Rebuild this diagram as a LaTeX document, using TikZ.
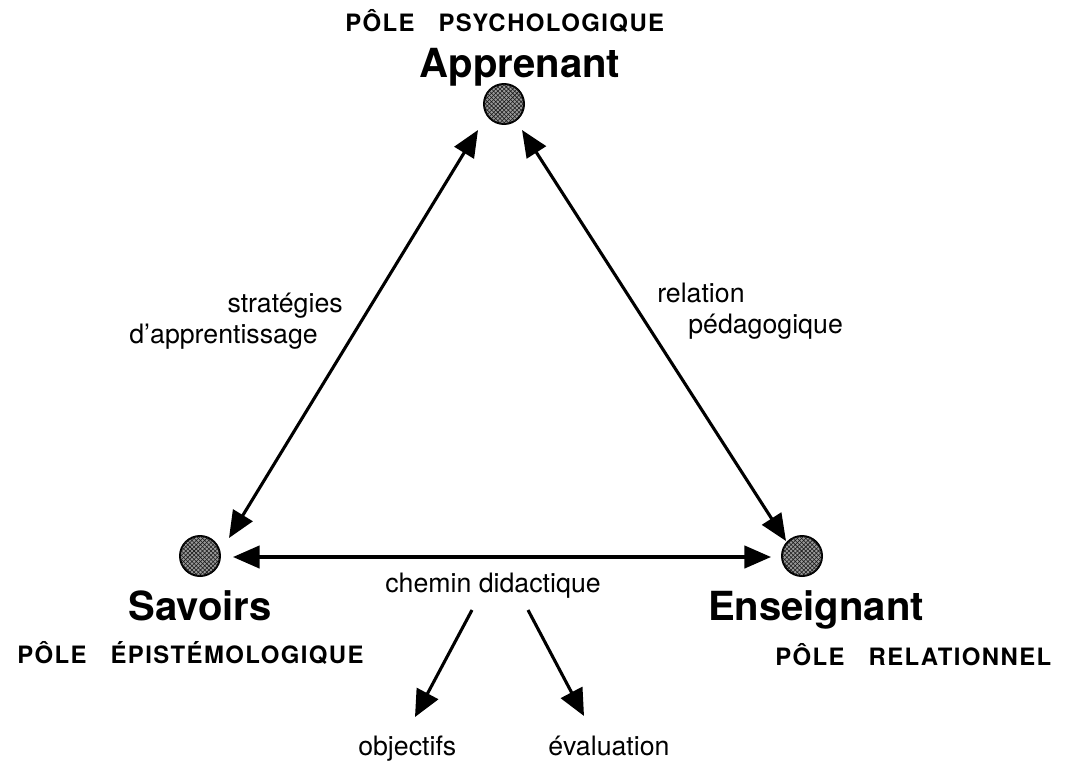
\documentclass[tikz,border=0pt]{standalone}
\usepackage{fontspec}
\setmainfont{TeX Gyre Heros}
\newfontfamily\capsfont{TeX Gyre Heros}[LetterSpace=6]
\usetikzlibrary{arrows.meta,patterns}
\tikzset{
  pole/.style={circle, draw=black, line width=1.4pt, minimum size=1cm, inner sep=0pt,
    fill=black!40, postaction={pattern=crosshatch, pattern color=black!90}},
  title/.style={inner sep=0pt, anchor=base, font=\bfseries\fontsize{28.5}{32}\selectfont},
  capslab/.style={inner sep=0pt, anchor=base west, font=\capsfont\bfseries\fontsize{17}{20}\selectfont},
  lab/.style={inner sep=0pt, font=\fontsize{19}{22}\selectfont},
  link/.style={line width=2.2pt, {Triangle[length=19pt,width=16pt]}-{Triangle[length=19pt,width=16pt]}},
  outarrow/.style={line width=2.2pt, -{Triangle[length=19pt,width=17pt]}}
}
\begin{document}
\begin{tikzpicture}[x=0.025cm,y=-0.025cm]
\useasboundingbox (0,0) rectangle (1075,762);
% poles
\node[pole] (pa) at (504,104) {};
\node[pole] (ps) at (200,556) {};
\node[pole] (pe) at (802,556) {};
% titles
\node[title] (ta) at (520,78) {Apprenant};
\node[title] (ts) at (200,620) {Savoirs};
\node[title] (te) at (816,620) {Enseignant};
\node[capslab] (ca) at (345,32) {PÔLE\hspace{1.0em}PSYCHOLOGIQUE};
\node[capslab] (cs) at (17,663) {PÔLE\hspace{1.0em}ÉPISTÉMOLOGIQUE};
\node[capslab] (ce) at (775,665) {PÔLE\hspace{1.0em}RELATIONNEL};
% edge labels
\node[lab, anchor=base east] (s1) at (343,312) {stratégies};
\node[lab, anchor=base east] (s2) at (318,343) {d'apprentissage};
\node[lab, anchor=base west] (r1) at (657,302) {relation};
\node[lab, anchor=base west] (r2) at (688,333) {pédagogique};
\node[lab, anchor=base west] (cd) at (385,592) {chemin didactique};
\node[lab, anchor=base west] (ob) at (358,755) {objectifs};
\node[lab, anchor=base west] (ev) at (548,755) {évaluation};
% arrow end points
\coordinate (aL) at (478,130);
\coordinate (aR) at (522,130);
\coordinate (sT) at (229,538);
\coordinate (eT) at (786,541);
\coordinate (sR) at (233,557);
\coordinate (eL) at (771,557);
\coordinate (c1) at (472,610);
\coordinate (c2) at (528,610);
\coordinate (o1) at (415,717);
\coordinate (v1) at (584,716);
% connectors
\draw[link] (aL) -- (sT);
\draw[link] (aR) -- (eT);
\draw[link] (sR) -- (eL);
\draw[outarrow] (c1) -- (o1);
\draw[outarrow] (c2) -- (v1);
\end{tikzpicture}
\end{document}
